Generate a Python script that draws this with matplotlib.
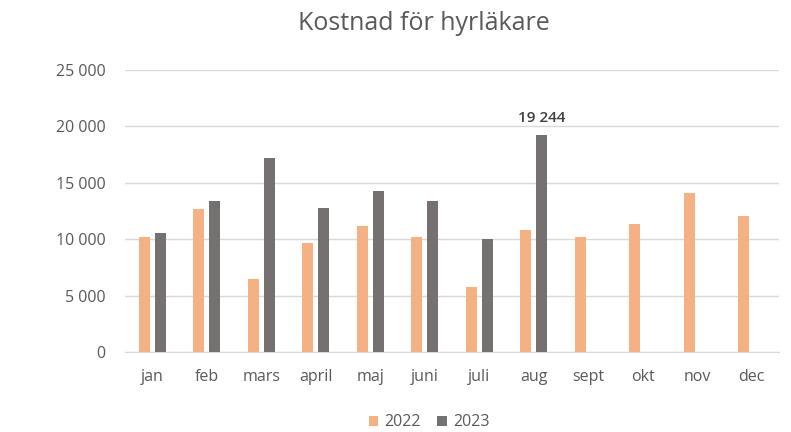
import matplotlib
import numpy as np
import matplotlib.pyplot as plt
from matplotlib.ticker import FuncFormatter

matplotlib.use('Agg')
plt.rcParams['font.family'] = ['Open Sans', 'DejaVu Sans']

months = ['jan', 'feb', 'mars', 'april', 'maj', 'juni', 'juli', 'aug', 'sept', 'okt', 'nov', 'dec']
cost_2022 = [10200, 12650, 6500, 9650, 11150, 10200, 5780, 10780, 10220, 11350, 14120, 12080]
cost_2023 = [10580, 13370, 17230, 12800, 14280, 13370, 10040, 19244]

fig = plt.figure(figsize=(7.91, 4.32), dpi=100)
ax = fig.add_axes([125 / 791, 80 / 432, 654 / 791, 282 / 432])

x = np.arange(len(months))
w = 0.2
ax.bar(x - 0.15, cost_2022, width=w, color='#f4b183', label='2022', zorder=3)
ax.bar(x[:len(cost_2023)] + 0.15, cost_2023, width=w, color='#767171', label='2023', zorder=3)

# etikett bara på högsta stapeln
ax.text(7 + 0.15, cost_2023[7] + 900, '19 244', ha='center', va='bottom',
        fontsize=11, color='#404040', fontweight='semibold')

ax.set_xlim(-0.5, 11.5)
ax.set_ylim(0, 25000)
ax.set_yticks(range(0, 25001, 5000))
ax.yaxis.set_major_formatter(FuncFormatter(lambda v, p: f'{int(v):,}'.replace(',', ' ')))
ax.set_xticks(x)
ax.set_xticklabels(months)
ax.tick_params(axis='both', length=0, labelsize=11.5, colors='#595959')
ax.tick_params(axis='y', pad=14)
ax.tick_params(axis='x', pad=12)

ax.grid(axis='y', color='#d9d9d9', linewidth=1, zorder=0)
for s in ['top', 'right', 'left']:
    ax.spines[s].set_visible(False)
ax.spines['bottom'].set_color('#d9d9d9')

fig.text(424 / 791, 1 - 23 / 432, 'Kostnad för hyrläkare', fontsize=18, color='#595959',
         ha='center', va='center')

ax.legend(loc='center', bbox_to_anchor=(0.465, -0.25), ncol=2, frameon=False,
          fontsize=11.5, labelcolor='#595959', handlelength=0.6, handleheight=0.6,
          handletextpad=0.4, columnspacing=1.0)

fig.savefig('out.png', dpi=100)
